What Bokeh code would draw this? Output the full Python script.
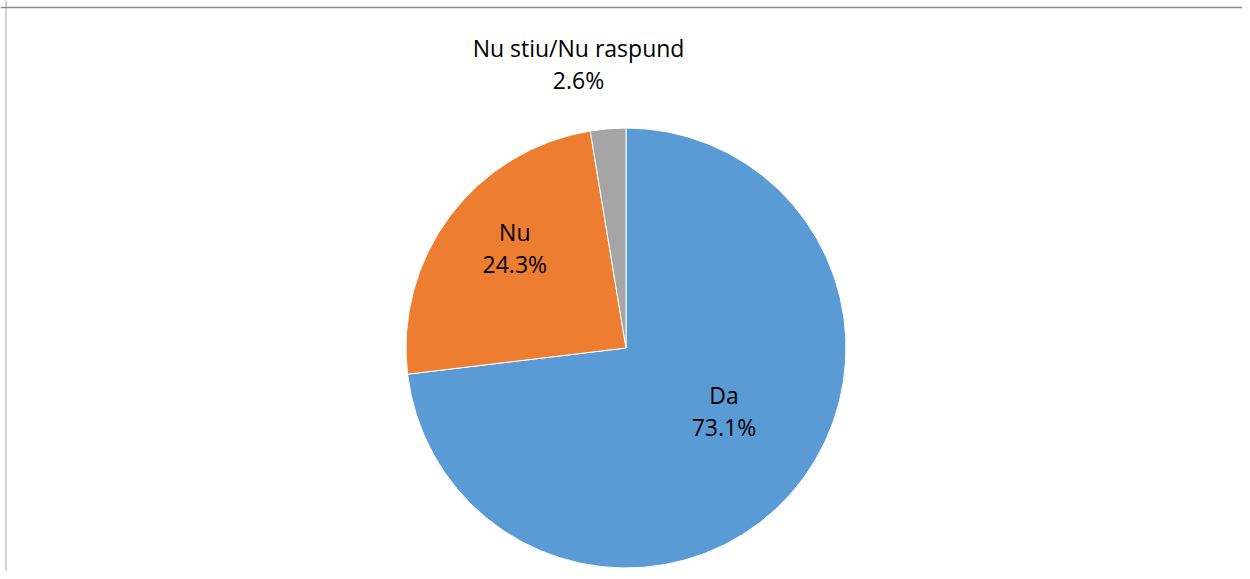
import math
from bokeh.plotting import figure
from bokeh.models import Range1d, Span, ColumnDataSource
from bokeh.core.properties import value
from bokeh.embed import file_html
from bokeh.resources import INLINE

# ---- data ----
categories = ["Da", "Nu", "Nu stiu/Nu raspund"]
shares = [73.1, 24.3, 2.6]
colors = ["#5B9BD5", "#ED7D31", "#A5A5A5"]

# ---- style / layout ----
W, H = 1242, 571
cx, cy = 625.5, H - 347.5
R = 220
label_r = [0.53, 0.68, 1.31]          # radial position of label (fraction of R)
label_shift_deg = [-8.7, 5.1, -4.8]   # angular nudge (clockwise degrees)
font = "Open Sans"
fsize = "23px"

p = figure(width=W, height=H, output_backend="svg", toolbar_location=None,
           x_range=Range1d(0, W), y_range=Range1d(0, H),
           min_border=0, outline_line_color=None)
p.axis.visible = False
p.grid.visible = False
p.background_fill_color = "white"

total = sum(shares)
starts, ends, lx, ly = [], [], [], []
cum = 0.0
for i, s in enumerate(shares):
    a0 = cum / total * 2 * math.pi
    a1 = (cum + s) / total * 2 * math.pi
    starts.append(math.pi / 2 - a0)
    ends.append(math.pi / 2 - a1)
    mid = (a0 + a1) / 2 + math.radians(label_shift_deg[i])
    lx.append(cx + R * label_r[i] * math.sin(mid))
    ly.append(cy + R * label_r[i] * math.cos(mid))
    cum += s

src = ColumnDataSource(dict(start=starts, end=ends, color=colors,
                            x=[cx] * 3, y=[cy] * 3))
p.wedge(x="x", y="y", radius=R, start_angle="start", end_angle="end",
        direction="clock", fill_color="color", line_color="white",
        line_width=1, source=src)

names_src = ColumnDataSource(dict(x=lx, y=[v + 16 for v in ly], t=categories))
pct_src = ColumnDataSource(dict(x=lx, y=[v - 16 for v in ly],
                                t=[f"{s:.1f}%" for s in shares]))
for s_ in (names_src, pct_src):
    p.text(x="x", y="y", text="t", source=s_, text_font=value(font),
           text_font_size=fsize, text_align="center", text_baseline="middle",
           text_color="#000000")

# chart-area border (left and top edges visible in the crop)
p.add_layout(Span(location=5.5, dimension="height", line_color="#A6A6A6", line_width=1))
p.add_layout(Span(location=H - 7, dimension="width", line_color="#8C8C8C", line_width=1.5))

open("out.html", "w").write(file_html(p, INLINE))
